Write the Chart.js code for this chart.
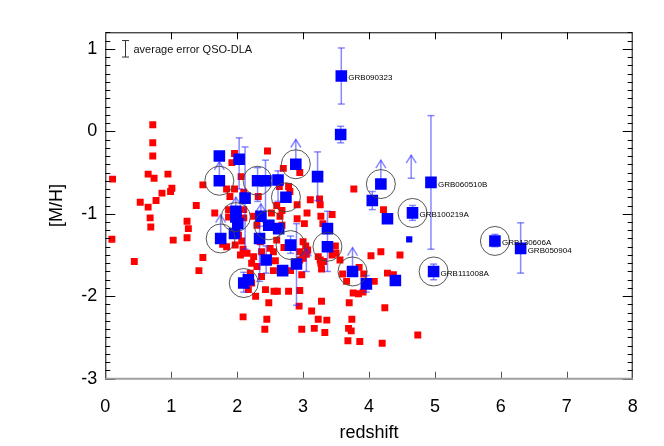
<!DOCTYPE html>
<html><head><meta charset="utf-8">
<script src="https://cdn.jsdelivr.net/npm/chart.js@4.4.0/dist/chart.umd.min.js"></script>
<style>html,body{margin:0;padding:0;background:#fff;}canvas{display:block;}</style>
</head><body>
<canvas id="c" width="664" height="446"></canvas>
<script>
// ---------- DATA ----------
const xTickVals = [0,1,2,3,4,5,6,7,8];
const yTickVals = [-3,-2,-1,0,1];

// QSO-DLA metallicities (red)
const qsoX = [0.11,0.10,0.44,0.72,0.72,0.72,0.65,0.74,0.95,1.01,0.99,0.86,0.77,0.53,0.65,0.68,0.69,1.38,1.48,1.24,1.26,1.24,1.03,1.48,1.42,
1.66,1.84,1.96,2.10,1.89,2.32,1.96,1.92,2.46,2.06,1.87,1.87,2.10,2.10,2.25,2.30,2.47,2.52,2.65,2.68,2.60,2.68,2.64,2.78,2.80,2.70,2.95,2.91,3.06,3.11,3.25,3.26,2.91,3.02,3.27,3.30,3.44,3.77,4.22,3.49,3.44,
1.78,1.84,1.97,2.02,2.07,2.05,2.09,2.15,2.25,2.22,2.30,2.35,2.37,2.50,2.55,2.60,2.71,2.58,2.55,2.37,2.20,2.22,2.81,2.95,2.95,3.00,3.05,3.07,3.00,3.26,3.23,3.27,3.28,2.98,3.04,3.31,3.50,3.56,3.60,3.66,3.85,3.92,4.03,4.18,4.47,4.08,4.28,4.37,3.76,3.84,3.91,3.70,4.24,
2.17,2.43,2.56,2.61,2.78,2.95,2.28,2.48,2.94,3.28,3.13,3.23,3.36,2.09,2.45,2.42,2.98,3.17,3.33,3.74,3.69,3.73,3.68,3.86,4.20,4.74];
const qsoY = [-0.58,-1.31,-1.58,0.08,-0.14,-0.30,-0.52,-0.57,-0.52,-0.69,-0.73,-0.75,-0.84,-0.86,-0.92,-1.05,-1.16,-0.90,-0.65,-1.09,-1.18,-1.29,-1.32,-1.53,-1.69,
-0.99,-0.70,-0.70,-0.74,-0.79,-0.79,-0.27,-0.38,-0.24,-0.55,-0.95,-1.04,-0.95,-1.05,-1.03,-1.14,-1.12,-0.99,-1.03,-1.14,-0.90,-0.96,-0.67,-0.67,-0.73,-0.45,-0.50,-0.89,-0.99,-0.83,-0.82,-0.89,-1.06,-1.12,-1.03,-1.12,-1.01,-0.70,-0.95,-1.39,-1.50,
-1.37,-1.40,-1.38,-1.26,-1.33,-1.50,-1.43,-1.48,-1.52,-1.60,-1.64,-1.34,-1.46,-1.42,-1.46,-1.32,-1.41,-1.57,-1.69,-1.76,-1.72,-1.84,-1.69,-1.46,-1.56,-1.54,-1.49,-1.44,-1.34,-1.56,-1.52,-1.60,-1.67,-1.74,-1.39,-1.58,-1.48,-1.56,-1.73,-1.82,-1.65,-1.73,-1.51,-1.46,-1.50,-1.82,-1.72,-1.74,-1.96,-1.97,-1.95,-2.08,-2.14,
-1.92,-1.92,-1.94,-1.94,-1.94,-1.93,-2.00,-2.08,-2.12,-2.06,-2.18,-2.28,-2.29,-2.25,-2.28,-2.40,-2.40,-2.39,-2.44,-2.28,-2.39,-2.42,-2.54,-2.55,-2.57,-2.47];

// GRB-DLA metallicities (blue)
const grbX   = [1.73,1.73,2.03,2.12,2.31,2.43,2.62,2.89,3.22,2.74,3.58,3.57,4.18,4.05,4.28,4.66,4.94,5.91,6.30,4.98,3.75,3.96,4.40,3.37,3.37,2.90,2.81,2.44,2.69,2.10,2.17,1.75,1.96,1.98,1.98,2.01,2.36,2.48,2.63,2.34];
const grbY   = [-0.30,-0.60,-0.34,-0.81,-0.60,-0.60,-0.59,-0.40,-0.55,-0.80,0.67,-0.04,-0.64,-0.84,-1.06,-0.99,-0.62,-1.33,-1.42,-1.70,-1.70,-1.85,-1.81,-1.18,-1.40,-1.61,-1.38,-1.56,-1.69,-1.84,-1.80,-1.30,-1.24,-0.97,-1.04,-1.12,-1.03,-1.14,-1.18,-1.30];
const grbLo  = [null,null,-0.70,-1.43,-0.85,-1.10,-0.85,null,-0.84,null,0.33,-0.14,null,-0.95,null,-1.08,-1.43,-1.40,-1.72,-1.80,null,-1.95,null,-1.70,null,-2.11,-1.48,-1.72,null,-1.95,null,null,null,null,null,null,null,null,null,-1.82];
const grbHi  = [null,null,-0.08,-0.19,-0.44,-0.35,-0.48,null,-0.25,null,1.01,0.06,null,-0.73,null,-0.90,0.19,-1.25,-1.11,-1.61,null,-1.75,null,-0.97,null,-1.12,-1.27,-1.39,null,-1.71,null,null,null,null,null,null,null,null,null,-1.15];
const grbLim = [null,-0.37,null,null,null,null,null,-0.10,null,null,null,null,-0.35,null,null,null,null,null,null,null,-1.41,null,null,null,null,null,null,null,null,null,null,-1.01,null,-0.80,null,null,-0.88,null,null,null];
const grbRing = [0,1,0,0,1,0,0,1,0,1,0,0,1,0,0,1,0,1,0,1,1,0,0,0,1,0,1,0,0,1,0,1,0,0,1,0,0,1,0,0];
const grbName = ['','','','','','','','','','','GRB090323','','','','','GRB100219A','GRB060510B','GRB130606A','GRB050904','GRB111008A','','','','','','','','','','','','','','','','','','','',''];

const smallX = [4.61];
const smallY = [-1.31];

// lower limits without a measured point
const limX    = [4.64, 3.05];
const limFrom = [-0.57, -1.70];
const limTo   = [-0.29, -1.42];

// average QSO-DLA error indicator
const avgErrX = 0.30, avgErrY = 1.0, avgErr = 0.10;
const avgErrText = 'average error QSO-DLA';

// ---------- CHART ----------
const FONT = 'Liberation Sans, Arial, Helvetica, sans-serif';
const ringData = grbX.map((x,i)=>({x, y:grbY[i]})).filter((p,i)=>grbRing[i]);
const RED_INDEX = 3;

const errPlugin = {
  id:'errbars',
  afterDatasetDraw(chart, args){
    if (args.index !== RED_INDEX) return;
    const ctx = chart.ctx, xs = chart.scales.x, ys = chart.scales.y;
    ctx.save();
    ctx.strokeStyle = 'rgba(40,40,255,0.55)';
    ctx.lineWidth = 1.5;
    const cw = 3.5;
    const line = (x1,y1,x2,y2)=>{ctx.beginPath();ctx.moveTo(x1,y1);ctx.lineTo(x2,y2);ctx.stroke();};
    const cap = (x,y)=>line(x-cw,y,x+cw,y);
    const head = (x,y)=>{ctx.beginPath();ctx.moveTo(x-5,y+8);ctx.lineTo(x,y);ctx.lineTo(x+5,y+8);ctx.stroke();};
    grbX.forEach((xv,i)=>{
      const px = xs.getPixelForValue(xv);
      if (grbLo[i]!==null){
        const a = ys.getPixelForValue(grbLo[i]), b = ys.getPixelForValue(grbHi[i]);
        line(px,a,px,b); cap(px,a); cap(px,b);
      }
      if (grbLim[i]!==null){
        const a = ys.getPixelForValue(grbY[i]), b = ys.getPixelForValue(grbLim[i]);
        line(px,a,px,b); head(px,b);
      }
    });
    limX.forEach((xv,i)=>{
      const px = xs.getPixelForValue(xv);
      const a = ys.getPixelForValue(limFrom[i]), b = ys.getPixelForValue(limTo[i]);
      line(px,a,px,b); cap(px,a); head(px,b);
    });
    ctx.restore();
  }
};

const framePlugin = {
  id:'frame',
  afterDraw(chart){
    const ctx = chart.ctx, xs = chart.scales.x, ys = chart.scales.y;
    const {left,right,top,bottom} = chart.chartArea;
    ctx.save();
    ctx.fillStyle = '#000';
    ctx.font = '8px ' + FONT;
    ctx.textBaseline = 'middle';
    ctx.textAlign = 'left';
    grbName.forEach((n,i)=>{
      if (!n) return;
      ctx.fillText(n, xs.getPixelForValue(grbX[i]) + 7, ys.getPixelForValue(grbY[i]) + 2);
    });
    const ex = Math.round(xs.getPixelForValue(avgErrX)) + 0.5;
    const e1 = ys.getPixelForValue(avgErrY + avgErr), e2 = ys.getPixelForValue(avgErrY - avgErr);
    ctx.strokeStyle = '#333'; ctx.lineWidth = 1;
    ctx.beginPath();
    ctx.moveTo(ex,e1); ctx.lineTo(ex,e2);
    ctx.moveTo(ex-3.5,e1); ctx.lineTo(ex+3.5,e1);
    ctx.moveTo(ex-3.5,e2); ctx.lineTo(ex+3.5,e2);
    ctx.stroke();
    ctx.fillStyle = '#111';
    ctx.font = '11px ' + FONT;
    ctx.fillText(avgErrText, ex + 8, ys.getPixelForValue(avgErrY) + 1);

    ctx.strokeStyle = '#000'; ctx.lineWidth = 1;
    ctx.beginPath();
    ctx.moveTo(left+0.5, bottom); ctx.lineTo(left+0.5, top+0.5);
    ctx.lineTo(right-0.5, top+0.5); ctx.lineTo(right-0.5, bottom);
    ctx.stroke();
    ctx.beginPath();
    for (let k=-30;k<=12;k++){
      const py = Math.round(ys.getPixelForValue(k/10)) + 0.5;
      const len = (k%10===0) ? 10 : 5;
      ctx.moveTo(left, py); ctx.lineTo(left+len, py);
      ctx.moveTo(right, py); ctx.lineTo(right-len, py);
    }
    xTickVals.slice(1,-1).forEach(v=>{
      const px = Math.round(xs.getPixelForValue(v)) + 0.5;
      ctx.moveTo(px, top); ctx.lineTo(px, top+7);
    });
    ctx.stroke();
    ctx.strokeStyle = '#555';
    ctx.beginPath();
    xTickVals.slice(1,-1).forEach(v=>{
      const px = Math.round(xs.getPixelForValue(v)) + 0.5;
      ctx.moveTo(px, bottom); ctx.lineTo(px, bottom-7);
    });
    ctx.stroke();
    ctx.strokeStyle = '#a0a0a0'; ctx.lineWidth = 2;
    ctx.beginPath(); ctx.moveTo(left, bottom); ctx.lineTo(right, bottom); ctx.stroke();
    ctx.restore();
  }
};

new Chart(document.getElementById('c'), {
  type:'scatter',
  data:{datasets:[
    {label:'ring', data:ringData, pointStyle:'circle', pointRadius:14.5, backgroundColor:'rgba(0,0,0,0)', borderColor:'#444', borderWidth:0.9},
    {label:'GRB', data:grbX.map((x,i)=>({x,y:grbY[i]})), pointStyle:'rect', pointRadius:8.2, backgroundColor:'#0000ff', borderWidth:0},
    {label:'GRBsmall', data:smallX.map((x,i)=>({x,y:smallY[i]})), pointStyle:'rect', pointRadius:4.4, backgroundColor:'#0000ff', borderWidth:0},
    {label:'QSO', data:qsoX.map((x,i)=>({x,y:qsoY[i]})), pointStyle:'rect', pointRadius:4.9, backgroundColor:'#ff0000', borderWidth:0}
  ]},
  options:{
    responsive:false, animation:false, devicePixelRatio:1,
    layout:{padding:{top:32.3, right:31.3, left:0, bottom:0}},
    plugins:{legend:{display:false}, tooltip:{enabled:false}},
    scales:{
      x:{type:'linear', min:0, max:8,
        afterBuildTicks:s=>{s.ticks = xTickVals.map(v=>({value:v}));},
        afterFit:s=>{s.height = 67.3;},
        grid:{display:false, drawTicks:false}, border:{display:false},
        ticks:{padding:18, color:'#000', font:{family:FONT, size:18}, maxRotation:0, autoSkip:false},
        title:{display:true, text:'redshift', color:'#000', font:{family:FONT, size:18}, padding:{top:0,bottom:2.2}}
      },
      y:{type:'linear', min:-3, max:1.2,
        afterBuildTicks:s=>{s.ticks = yTickVals.map(v=>({value:v}));},
        afterFit:s=>{s.width = 105.3;},
        grid:{display:false, drawTicks:false}, border:{display:false},
        ticks:{padding:8, color:'#000', font:{family:FONT, size:18}, autoSkip:false},
        title:{display:true, text:'[M/H]', color:'#000', font:{family:FONT, size:18}, padding:{top:46.7,bottom:0}}
      }
    }
  },
  plugins:[errPlugin, framePlugin]
});
</script>
</body></html>
